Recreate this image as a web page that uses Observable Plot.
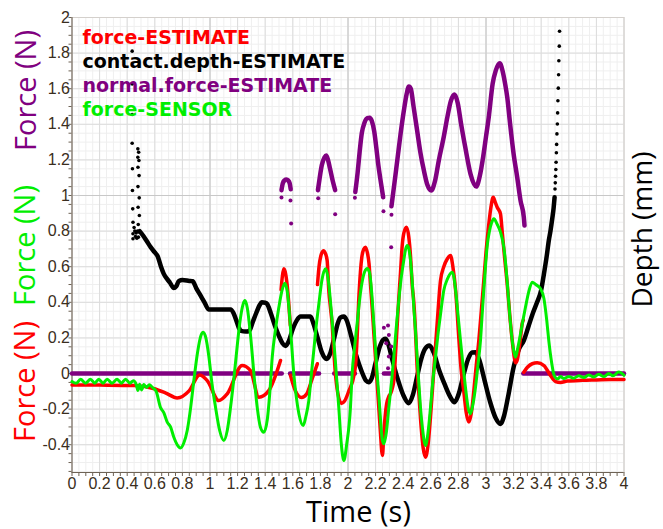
<!DOCTYPE html>
<html><head><meta charset="utf-8">
<script src="https://cdn.jsdelivr.net/npm/d3@7"></script>
<script src="https://cdn.jsdelivr.net/npm/@observablehq/plot@0.6"></script>
<style>body{margin:0;background:#fff;} #chart svg{display:block;background:#fff}</style>
</head><body><div id="chart"></div>
<script>
// ---------- tick labels ----------
const xTickValues = [0,0.2,0.4,0.6,0.8,1,1.2,1.4,1.6,1.8,2,2.2,2.4,2.6,2.8,3,3.2,3.4,3.6,3.8,4];
const yTickValues = [-0.4,-0.2,0,0.2,0.4,0.6,0.8,1,1.2,1.4,1.6,1.8,2];
const legendLabels = ["force-ESTIMATE","contact.depth-ESTIMATE","normal.force-ESTIMATE","force-SENSOR"];
const legendColors = ["#ff0000","#000000","#800080","#00ee00"];

// ---------- force-ESTIMATE (red), segments of [time, force] ----------
const forceEstimateSegments = [
  [[0,-0.064],[0.2,-0.065],[0.45,-0.067],[0.59,-0.084],[0.68,-0.11],[0.762,-0.137],[0.85,-0.096],[0.925,-0.008],[0.98,-0.04],[1.064,-0.152],[1.125,-0.114],[1.233,0.045],[1.293,0.017],[1.354,-0.133],[1.426,-0.096],[1.511,0.073]],
  [[1.515,0.47],[1.525,0.55],[1.535,0.588],[1.548,0.56],[1.56,0.49],[1.572,0.38],[1.582,0.27]],
  [[1.583,-0.01],[1.62,-0.10],[1.663,-0.135],[1.70,-0.115],[1.74,-0.03],[1.778,0.055]],
  [[1.779,0.50],[1.79,0.60],[1.803,0.66],[1.822,0.69],[1.836,0.675],[1.849,0.635],[1.861,0.466],[1.873,0.37],[1.885,0.279],[1.897,0.129],[1.909,0.0],[1.925,-0.105],[1.952,-0.168],[1.975,-0.155],[2.005,-0.10],[2.046,0.0],
   [2.056,0.06],[2.066,0.2],[2.077,0.40],[2.09,0.57],[2.10,0.653],[2.115,0.70],[2.127,0.71],[2.14,0.68],[2.152,0.62],[2.163,0.5],[2.175,0.372],[2.187,0.23],[2.199,0.092],[2.211,-0.05],[2.223,-0.189],[2.235,-0.33],[2.245,-0.44],[2.25,-0.46],
   [2.258,-0.36],[2.268,-0.25],[2.28,-0.17],[2.295,-0.13],[2.31,-0.11],[2.322,-0.08],[2.332,-0.04],[2.345,0.12],[2.357,0.279],[2.368,0.42],[2.38,0.56],[2.393,0.72],[2.405,0.79],[2.424,0.822],[2.44,0.77],[2.453,0.66],
   [2.465,0.50],[2.477,0.40],[2.489,0.24],[2.50,0.05],[2.515,-0.13],[2.53,-0.30],[2.545,-0.42],[2.562,-0.47],[2.58,-0.40],[2.60,-0.22],[2.62,0.0],[2.646,0.28],[2.67,0.52],[2.694,0.60],[2.72,0.645],[2.743,0.663],[2.76,0.60],[2.78,0.466],[2.803,0.20],[2.82,0.02],[2.839,-0.10],[2.857,-0.22],[2.876,-0.273],[2.894,-0.22],[2.912,-0.096],[2.93,0.05],[2.948,0.185],[2.966,0.35],[2.984,0.522],[3.0,0.68],[3.015,0.80],[3.035,0.93],[3.052,0.99],[3.068,0.96],[3.081,0.934],[3.105,0.897],[3.117,0.80],[3.135,0.65],[3.154,0.50],[3.172,0.33],[3.19,0.185],[3.205,0.09],[3.214,0.06],[3.228,0.08],[3.238,0.13],[3.25,0.2],[3.262,0.28],[3.27,0.30]],
  [[3.274,0.007],[3.30,0.035],[3.335,0.055],[3.371,0.06],[3.42,0.045],[3.467,-0.011],[3.504,-0.045],[3.54,-0.05],[3.588,-0.042],[3.7,-0.038],[3.8,-0.036],[3.9,-0.034],[4.0,-0.033]]
];

// ---------- force-SENSOR (green) ----------
const forceSensor = [[0,-0.045],[0.03,-0.055],[0.062,-0.032],[0.098,-0.054],[0.134,-0.032],[0.165,-0.054],[0.194,-0.032],[0.225,-0.054],[0.255,-0.032],[0.29,-0.054],[0.327,-0.032],[0.358,-0.054],[0.388,-0.032],[0.42,-0.054],[0.445,-0.04],[0.465,-0.06],[0.478,-0.095],[0.49,-0.06],[0.505,-0.092],[0.52,-0.062],[0.54,-0.078],[0.56,-0.063],[0.585,-0.08],[0.61,-0.10],[0.641,-0.19],[0.665,-0.22],[0.69,-0.273],[0.714,-0.30],[0.738,-0.358],[0.762,-0.40],[0.786,-0.418],[0.81,-0.39],[0.835,-0.32],[0.86,-0.19],[0.883,-0.039],[0.91,0.12],[0.935,0.215],[0.951,0.232],[0.97,0.20],[0.991,0.10],[1.015,-0.06],[1.04,-0.189],[1.07,-0.32],[1.10,-0.376],[1.125,-0.32],[1.149,-0.189],[1.17,-0.05],[1.19,0.10],[1.215,0.28],[1.24,0.39],[1.253,0.41],[1.27,0.37],[1.293,0.22],[1.318,0.0],[1.342,-0.189],[1.365,-0.30],[1.39,-0.33],[1.415,-0.26],[1.435,-0.09],[1.451,0.092],[1.475,0.25],[1.499,0.372],[1.52,0.46],[1.542,0.507],[1.558,0.47],[1.571,0.38],[1.59,0.18],[1.607,0.0],[1.625,-0.13],[1.644,-0.226],[1.675,-0.292],[1.695,-0.24],[1.716,-0.152],[1.735,0.0],[1.752,0.129],[1.77,0.27],[1.789,0.392],[1.81,0.52],[1.837,0.588],[1.85,0.56],[1.861,0.50],[1.88,0.34],[1.897,0.185],[1.915,0.0],[1.933,-0.189],[1.952,-0.40],[1.97,-0.489],[1.99,-0.40],[2.018,-0.189],[2.03,0.0],[2.048,0.15],[2.066,0.279],[2.085,0.42],[2.10,0.504],[2.12,0.57],[2.139,0.59],[2.155,0.57],[2.163,0.53],[2.175,0.42],[2.187,0.279],[2.20,0.13],[2.211,0.0],[2.225,-0.14],[2.236,-0.264],[2.248,-0.37],[2.26,-0.395],[2.278,-0.33],[2.296,-0.189],[2.315,-0.05],[2.332,0.092],[2.35,0.26],[2.368,0.41],[2.386,0.54],[2.404,0.635],[2.418,0.70],[2.429,0.719],[2.441,0.70],[2.453,0.635],[2.465,0.52],[2.477,0.372],[2.49,0.23],[2.501,0.092],[2.513,-0.05],[2.525,-0.189],[2.54,-0.31],[2.562,-0.404],[2.58,-0.33],[2.598,-0.189],[2.615,-0.04],[2.634,0.092],[2.652,0.22],[2.67,0.33],[2.694,0.466],[2.72,0.53],[2.755,0.569],[2.768,0.54],[2.78,0.466],[2.797,0.33],[2.815,0.185],[2.833,0.05],[2.851,-0.077],[2.87,-0.19],[2.888,-0.226],[2.906,-0.17],[2.924,-0.077],[2.942,0.05],[2.96,0.185],[2.972,0.33],[2.984,0.47],[2.996,0.6],[3.009,0.72],[3.025,0.80],[3.04,0.845],[3.057,0.869],[3.08,0.84],[3.105,0.794],[3.129,0.71],[3.142,0.62],[3.154,0.51],[3.172,0.33],[3.19,0.185],[3.203,0.12],[3.214,0.092],[3.232,0.15],[3.25,0.223],[3.268,0.30],[3.286,0.372],[3.31,0.46],[3.335,0.513],[3.36,0.50],[3.395,0.476],[3.42,0.42],[3.44,0.30],[3.455,0.185],[3.472,0.08],[3.49,0.0],[3.505,-0.025],[3.52,-0.03],[3.54,-0.017],[3.564,-0.028],[3.60,-0.017],[3.636,-0.026],[3.672,-0.012],[3.709,-0.022],[3.745,-0.008],[3.781,-0.02],[3.817,-0.004],[3.854,-0.017],[3.89,0.0],[3.92,-0.013],[3.962,0.008],[4.0,-0.01]];

// ---------- contact.depth-ESTIMATE (black) ----------
const depthLine = [[0.49,0.80],[0.52,0.77],[0.545,0.74],[0.57,0.71],[0.60,0.68],[0.62,0.66],[0.645,0.60],[0.665,0.56],[0.69,0.53],[0.71,0.51],[0.738,0.48],[0.755,0.49],[0.775,0.52],[0.80,0.525],[0.85,0.52],[0.875,0.518],[0.90,0.48],[0.93,0.44],[0.96,0.40],[0.99,0.36],[1.05,0.36],[1.15,0.36],[1.17,0.34],[1.19,0.30],[1.21,0.255],[1.225,0.24],[1.26,0.236],[1.285,0.24],[1.31,0.29],[1.335,0.34],[1.36,0.385],[1.375,0.40],[1.40,0.398],[1.415,0.39],[1.44,0.34],[1.47,0.27],[1.50,0.21],[1.525,0.17],[1.547,0.155],[1.57,0.18],[1.60,0.25],[1.63,0.30],[1.656,0.32],[1.70,0.32],[1.728,0.32],[1.75,0.28],[1.78,0.20],[1.81,0.12],[1.845,0.082],[1.87,0.11],[1.90,0.20],[1.925,0.28],[1.946,0.315],[1.97,0.32],[1.99,0.30],[2.02,0.22],[2.06,0.10],[2.10,0.01],[2.13,-0.04],[2.15,-0.049],[2.17,-0.03],[2.20,0.06],[2.23,0.15],[2.255,0.19],[2.272,0.195],[2.29,0.17],[2.32,0.08],[2.36,-0.03],[2.40,-0.12],[2.44,-0.167],[2.47,-0.12],[2.50,-0.02],[2.53,0.08],[2.56,0.14],[2.59,0.157],[2.62,0.12],[2.66,0.02],[2.70,-0.06],[2.74,-0.13],[2.772,-0.161],[2.80,-0.12],[2.84,0.0],[2.87,0.08],[2.90,0.118],[2.924,0.12],[2.95,0.08],[2.99,-0.04],[3.03,-0.16],[3.07,-0.25],[3.105,-0.283],[3.13,-0.24],[3.16,-0.13],[3.20,0.035],[3.24,0.14],[3.274,0.185],[3.31,0.27],[3.34,0.34],[3.37,0.40],[3.40,0.47],[3.42,0.56],[3.44,0.66],[3.455,0.747],[3.467,0.80],[3.48,0.87],[3.49,0.93],[3.497,0.99]];
const depthScatter = [[0.436,1.811],[0.436,1.627],[0.436,1.455],[0.436,1.294],[0.438,1.15],[0.438,1.028],[0.44,0.925],[0.442,0.85],[0.442,0.785],[0.442,0.757],
  [0.477,1.262],[0.483,1.243],[0.477,1.215],[0.485,1.197],[0.478,1.159],[0.486,1.112],[0.478,1.05],[0.487,0.987],[0.479,0.934],[0.488,0.888],[0.48,0.837],[0.488,0.794],[0.481,0.766],
  [0.455,0.80],[0.46,0.77],[0.45,0.82],[0.465,0.79],[0.47,0.76],[0.475,0.80],
  [3.500,1.037],[3.502,1.071],[3.504,1.108],[3.506,1.146],[3.508,1.187],[3.510,1.24],[3.512,1.287],[3.514,1.346],[3.517,1.402],[3.519,1.464],[3.521,1.532],[3.524,1.603],[3.526,1.678],[3.528,1.757],[3.531,1.839],[3.533,1.923]];

// ---------- normal.force-ESTIMATE (purple) ----------
const normalZeroSegments = [[[0,0],[1.52,0]],[[1.58,0],[1.79,0]],[[1.90,0],[2.05,0]],[[2.26,0],[2.32,0]],[[3.27,0],[4.0,0]]];
const normalHumpSegments = [
  [[1.518,1.03],[1.528,1.07],[1.54,1.085],[1.554,1.09],[1.566,1.085],[1.577,1.07],[1.585,1.035]],
  [[1.782,1.03],[1.795,1.10],[1.81,1.17],[1.83,1.215],[1.842,1.225],[1.855,1.20],[1.87,1.15],[1.89,1.08],[1.907,1.03]],
  [[2.053,1.02],[2.07,1.13],[2.085,1.25],[2.10,1.35],[2.12,1.41],[2.14,1.435],[2.156,1.437],[2.172,1.42],[2.19,1.36],[2.205,1.27],[2.22,1.17],[2.235,1.09],[2.255,0.99]],
  [[2.315,0.94],[2.335,1.06],[2.357,1.197],[2.38,1.34],[2.405,1.478],[2.425,1.57],[2.441,1.612],[2.455,1.60],[2.475,1.50],[2.50,1.37],[2.525,1.24],[2.55,1.14],[2.575,1.06],[2.603,1.028],[2.63,1.08],[2.658,1.197],[2.694,1.33],[2.72,1.44],[2.745,1.53],[2.772,1.567],[2.795,1.52],[2.82,1.40],[2.85,1.27],[2.888,1.12],[2.929,1.05],[2.955,1.11],[2.98,1.22],[3.0,1.33],[3.02,1.44],[3.048,1.627],[3.07,1.70],[3.10,1.743],[3.12,1.70],[3.138,1.63],[3.154,1.552],[3.172,1.421],[3.20,1.234],[3.226,1.103],[3.25,0.972],[3.274,0.878],[3.279,0.831]]
];
const normalScatter = [[1.518,0.989],[1.583,0.972],[1.588,0.843],[1.784,0.985],[1.907,0.895],[2.05,0.987],[2.257,0.912],[2.315,0.892],[2.313,0.71],[2.26,0.257],[2.29,0.27],[2.296,0.217],[2.277,0.17],[2.313,0.152],[2.296,0.096],[2.29,0.03]];

// ---------- build tables ----------
const seg = (segs) => segs.flatMap((s, i) => s.map(([t, v]) => ({t, v, seg: i})));
const pts = (arr) => arr.map(([t, v]) => ({t, v}));
const redRows = seg(forceEstimateSegments);
const greenRows = pts(forceSensor);
const blackRows = pts(depthLine);
const blackDots = pts(depthScatter);
const purpleZero = seg(normalZeroSegments);
const purpleHumps = seg(normalHumpSegments);
const purpleDots = pts(normalScatter);

const minorX = d3.range(0, 81).map(i => i * 0.05);
const minorY = d3.range(-11, 41).map(i => i * 0.05);
const fmt = d => d === 0 ? "0" : String(+d.toFixed(1));
const axisColor = "#6e6355";

const chart = Plot.plot({
  width: 663, height: 529,
  marginLeft: 71.5, marginRight: 39.5, marginTop: 17, marginBottom: 57,
  x: {domain: [0, 4]},
  y: {domain: [-0.556, 2]},
  style: {fontFamily: "Liberation Sans, sans-serif", fontSize: "16px", color: "#3a2e20", background: "#fff"},
  marks: [
    Plot.gridX({ticks: minorX, stroke: "#efefef", strokeOpacity: 1}),
    Plot.gridY({ticks: minorY, stroke: "#efefef", strokeOpacity: 1}),
    Plot.gridX({ticks: xTickValues, stroke: "#dcdcdc", strokeOpacity: 1}),
    Plot.gridY({ticks: yTickValues, stroke: "#dcdcdc", strokeOpacity: 1}),
    Plot.gridX({ticks: [1, 2, 3], stroke: "#c8c8c8", strokeOpacity: 1}),
    Plot.gridY({ticks: [1], stroke: "#c8c8c8", strokeOpacity: 1}),
    Plot.frame({stroke: "#d4d0cc"}),
    Plot.axisY({ticks: minorY, tickSize: 3, tickFormat: () => "", label: null, stroke: axisColor}),
    Plot.axisX({ticks: minorX, tickSize: 4, tickFormat: () => "", label: null, stroke: axisColor}),
    Plot.axisY({ticks: yTickValues, tickSize: 0, tickPadding: 2, tickFormat: fmt, label: null, fontSize: 16}),
    Plot.axisX({ticks: xTickValues, tickSize: 0, tickPadding: 5, tickFormat: fmt, label: null, fontSize: 16}),
    Plot.ruleX([0], {stroke: axisColor}),
    Plot.ruleY([-0.556], {stroke: axisColor}),
    // series
    Plot.line(purpleZero, {x: "t", y: "v", z: "seg", stroke: "#800080", strokeWidth: 4.5}),
    Plot.line(blackRows, {x: "t", y: "v", stroke: "#000", strokeWidth: 4.5, curve: "monotone-x"}),
    Plot.dot(blackDots, {x: "t", y: "v", r: 1.8, fill: "#000", stroke: null}),
    Plot.line(redRows, {x: "t", y: "v", z: "seg", stroke: "#ff0000", strokeWidth: 3.5, curve: "monotone-x"}),
    Plot.line(greenRows, {x: "t", y: "v", stroke: "#00ee00", strokeWidth: 3, curve: "monotone-x"}),
    Plot.line(purpleHumps, {x: "t", y: "v", z: "seg", stroke: "#800080", strokeWidth: 4.5, curve: "monotone-x"}),
    Plot.dot(purpleDots, {x: "t", y: "v", r: 2, fill: "#800080", stroke: null}),
    // legend
    ...legendLabels.map((label, i) => Plot.text([label], {
      text: d => d, frameAnchor: "top-left", textAnchor: "start", lineAnchor: "bottom",
      dx: 10.5, dy: 26 + 24 * i, fill: legendColors[i],
      fontFamily: "DejaVu Sans", fontWeight: "bold", fontSize: 19
    })),
    // axis titles
    Plot.text(["Force (N)"], {text: d => d, frameAnchor: "left", rotate: -90, textAnchor: "middle", lineAnchor: "middle",
      dx: -45.5, dy: -154.5, fill: "#800080", fontFamily: "Open Sans", fontSize: 29}),
    Plot.text(["Force (N)"], {text: d => d, frameAnchor: "left", rotate: -90, textAnchor: "middle", lineAnchor: "middle",
      dx: -46.5, dy: 0.5, fill: "#00ee00", fontFamily: "Open Sans", fontSize: 29}),
    Plot.text(["Force (N)"], {text: d => d, frameAnchor: "left", rotate: -90, textAnchor: "middle", lineAnchor: "middle",
      dx: -46.5, dy: 136.5, fill: "#ff0000", fontFamily: "Open Sans", fontSize: 29}),
    Plot.text(["Depth (mm)"], {text: d => d, frameAnchor: "right", rotate: -90, textAnchor: "middle", lineAnchor: "middle",
      dx: 19, dy: -15.5, fill: "#000", fontFamily: "Open Sans", fontSize: 28}),
    Plot.text(["Time (s)"], {text: d => d, frameAnchor: "bottom", textAnchor: "middle", lineAnchor: "bottom",
      dx: 10.5, dy: 49, fill: "#000", fontFamily: "Open Sans", fontSize: 29})
  ]
});
document.getElementById("chart").appendChild(chart);
</script>
</body></html>
